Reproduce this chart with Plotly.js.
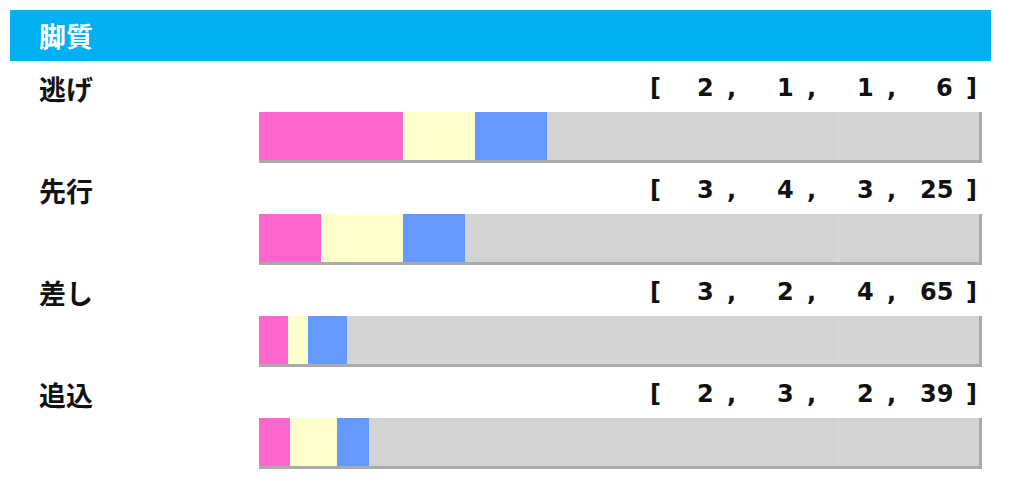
<!DOCTYPE html>
<html><head><meta charset="utf-8">
<script src="https://cdn.plot.ly/plotly-3.0.1.min.js"></script>
<style>html,body{margin:0;padding:0;background:#fff}#chart{width:1024px;height:495px}</style>
</head><body><div id="chart"></div>
<script>
const title = "脚質";
const categories = ["逃げ", "先行", "差し", "追込"];
const first  = [2, 3, 3, 2];
const second = [1, 4, 2, 3];
const third  = [1, 3, 4, 2];
const others = [6, 25, 65, 39];
const seriesNames = ["1着", "2着", "3着", "着外"];
const seriesColors = ["#FF66CC", "#FFFFCC", "#6699FF", "#D3D3D3"];

const W = 1024, H = 495;
const L = 259, BAR_END = 979, R = 985;   // plot area x pixels
const rowTop = 136, rowStep = 102;       // bar centre y of first row, spacing
const barPx = 48;
const px2x = p => (p - L) / (R - L);
const xMax = 100 * (R - L) / (BAR_END - L);
const yRange = [(H - rowTop) / rowStep, -rowTop / rowStep];
const idx = categories.map((_, i) => i);

const series = [first, second, third, others];
const traces = series.map((vals, k) => ({
  type: "bar", orientation: "h", name: seriesNames[k],
  x: vals, y: idx, width: barPx / rowStep,
  marker: { color: seriesColors[k], line: { width: 0 } },
  hoverinfo: "skip"
}));

const shapes = [];
const annotations = [];
// header
shapes.push({ type: "rect", xref: "paper", yref: "paper", layer: "below",
  x0: px2x(10), x1: px2x(991), y0: 1 - 61 / H, y1: 1 - 10 / H,
  fillcolor: "#00B0F0", line: { width: 0 } });
annotations.push({ xref: "paper", yref: "paper", x: px2x(37), y: 1 - 35 / H,
  xanchor: "left", yanchor: "middle", showarrow: false, text: title,
  font: { family: "Noto Sans CJK JP", size: 27, color: "#ffffff", weight: "bold" } });

const half = barPx / rowStep / 2;
const dx = 3 / (BAR_END - L) * 100, dy = 3 / rowStep;
const fieldEnds = [714, 794, 874, 953];
const commaPos = [731, 811, 891];
const numFont = { family: "DejaVu Sans", size: 24, color: "#111", weight: "bold" };
categories.forEach((c, i) => {
  // shadow
  shapes.push({ type: "rect", xref: "x", yref: "y", layer: "below",
    x0: 0, x1: 100 + dx, y0: i - half, y1: i + half + dy,
    fillcolor: "#AAAAAA", line: { width: 0 } });
  // faint divider
  shapes.push({ type: "line", xref: "x", yref: "y", layer: "above",
    x0: 80.4, x1: 80.4, y0: i - half, y1: i + half,
    line: { color: "#DCDCDC", width: 1 } });
  const ty = i - 48 / rowStep;
  annotations.push({ xref: "paper", yref: "y", x: px2x(37), y: ty,
    xanchor: "left", yanchor: "middle", showarrow: false, text: c,
    font: { family: "Noto Sans CJK JP", size: 27, color: "#111", weight: "bold" } });
  annotations.push({ xref: "paper", yref: "y", x: px2x(655), y: ty,
    xanchor: "center", yanchor: "middle", showarrow: false, text: "[", font: numFont });
  annotations.push({ xref: "paper", yref: "y", x: px2x(971), y: ty,
    xanchor: "center", yanchor: "middle", showarrow: false, text: "]", font: numFont });
  const vals = [first[i], second[i], third[i], others[i]];
  vals.forEach((v, k) => {
    annotations.push({ xref: "paper", yref: "y", x: px2x(fieldEnds[k] + 2), y: ty,
      xanchor: "right", yanchor: "middle", showarrow: false, text: String(v), font: numFont });
  });
  commaPos.forEach(p => {
    annotations.push({ xref: "paper", yref: "y", x: px2x(p), y: ty,
      xanchor: "center", yanchor: "middle", showarrow: false, text: ",", font: numFont });
  });
});

const layout = {
  width: W, height: H,
  margin: { l: L, r: W - R, t: 0, b: 0, pad: 0 },
  paper_bgcolor: "#ffffff", plot_bgcolor: "rgba(0,0,0,0)",
  barmode: "stack", barnorm: "percent", bargap: 0,
  showlegend: false,
  xaxis: { range: [0, xMax], visible: false, fixedrange: true },
  yaxis: { range: yRange, visible: false, fixedrange: true },
  shapes, annotations
};
Plotly.newPlot("chart", traces, layout, { displayModeBar: false, staticPlot: true });
</script></body></html>
